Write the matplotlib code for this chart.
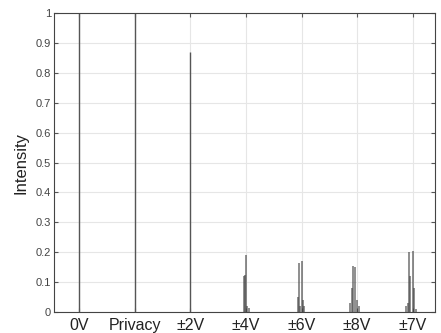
from matplotlib import pyplot as plt
import numpy as np

plt.rcParams['font.family'] = ['Liberation Sans', 'DejaVu Sans']

labels = ['0V', 'Privacy', '±2V', '±4V', '±6V', '±8V', '±7V']

# main single peaks: position, height
main_x = [1.0, 2.0, 3.0]
main_h = [1.0, 1.0, 0.87]

# small clusters around the last four states (position, height)
c4_x = [3.96, 3.98, 4.0, 4.02, 4.05]
c4_h = [0.12, 0.125, 0.19, 0.02, 0.015]
c6_x = [4.93, 4.95, 4.97, 5.01, 5.03, 5.05]
c6_h = [0.05, 0.165, 0.02, 0.17, 0.04, 0.02]
c8_x = [5.87, 5.90, 5.93, 5.96, 5.99, 6.03]
c8_h = [0.03, 0.08, 0.155, 0.15, 0.04, 0.02]
c7_x = [6.87, 6.91, 6.93, 6.95, 7.0, 7.02, 7.05]
c7_h = [0.02, 0.03, 0.2, 0.12, 0.205, 0.08, 0.01]

fig = plt.figure(figsize=(4.41, 3.33), dpi=100)
ax = fig.add_axes([0.1224, 0.063, 0.864, 0.898])

ax.vlines(main_x, 0, main_h, color='#555555', linewidth=1.0)
for xs, hs in [(c4_x, c4_h), (c6_x, c6_h), (c8_x, c8_h), (c7_x, c7_h)]:
    ax.vlines(xs, 0, hs, color='#444444', linewidth=1.2, alpha=0.7)

ax.set_xlim(0.55, 7.4)
ax.set_ylim(0, 1)
ax.set_xticks(range(1, 8))
ax.set_xticklabels(labels, fontsize=11.5, color='#222222')
ax.set_yticks(np.arange(0, 1.01, 0.1))
ax.set_yticklabels(['0', '0.1', '0.2', '0.3', '0.4', '0.5', '0.6', '0.7', '0.8', '0.9', '1'], fontsize=8, color='#444444')
ax.set_ylabel('Intensity', fontsize=12, labelpad=5, color='#222222')

ax.grid(True, color='#e6e6e6', linewidth=0.8)
ax.set_axisbelow(True)
ax.tick_params(direction='in', top=True, right=True, length=3, color='#555555', pad=2)
ax.tick_params(axis='x', pad=4)
for s in ax.spines.values():
    s.set_color('#444444')
    s.set_linewidth(0.8)

plt.savefig('out.png', dpi=100)
